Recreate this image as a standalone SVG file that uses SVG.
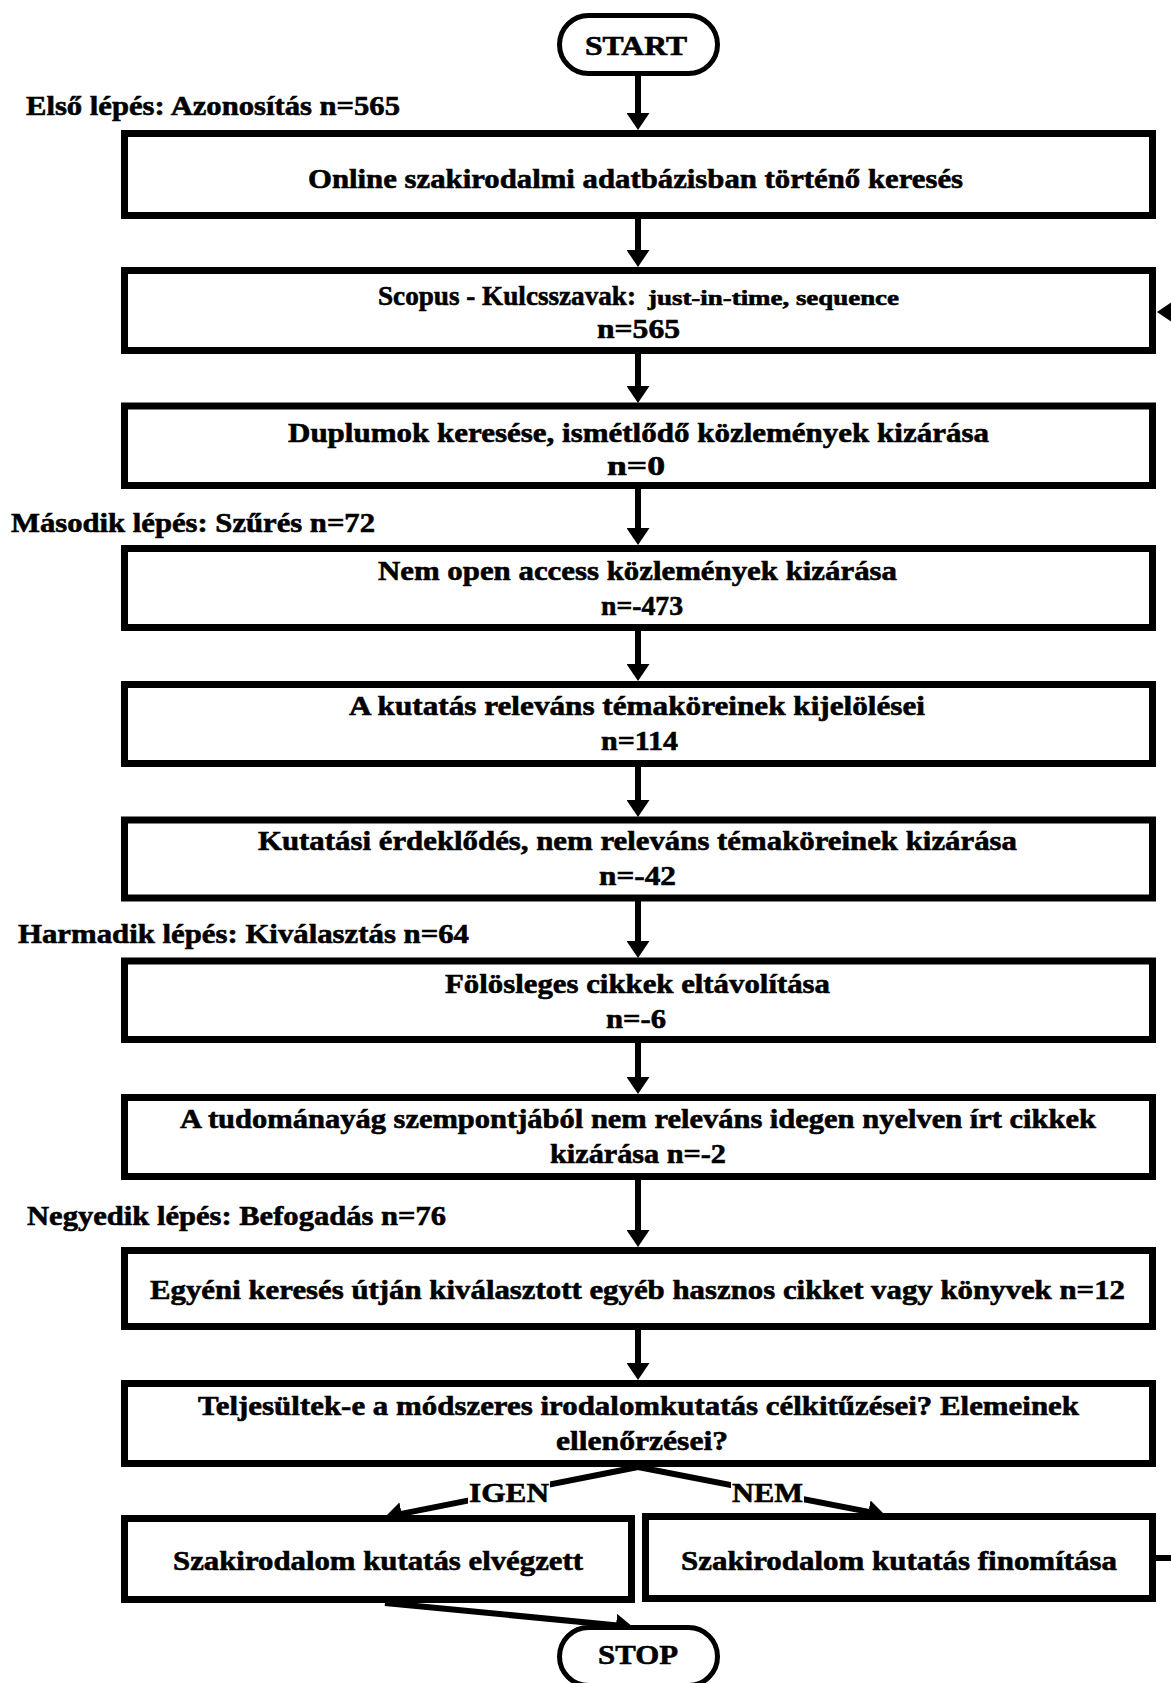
<svg xmlns="http://www.w3.org/2000/svg" width="1171" height="1683" viewBox="0 0 1171 1683">
<defs>
<style>
.box{fill:#fff;stroke:#000;stroke-width:7}
.pill{fill:#fff;stroke:#000;stroke-width:5}
.t{font-family:"Liberation Serif","Times New Roman",serif;font-weight:bold;font-size:28px;fill:#000;stroke:#000;stroke-width:0.6}
.s{font-size:22px}
.c{fill:none;stroke:#000;stroke-width:6}
</style>
<marker id="ah" markerUnits="userSpaceOnUse" markerWidth="17" markerHeight="23" viewBox="0 0 17 23" refX="7" refY="11.5" orient="auto">
<path d="M0,0 L17,11.5 L0,23 z" fill="#000"/>
</marker>
</defs>

<g id="connectors">
<line class="c" x1="638" y1="76" x2="638" y2="120" marker-end="url(#ah)"/>
<line class="c" x1="638" y1="219" x2="638" y2="257" marker-end="url(#ah)"/>
<line class="c" x1="638" y1="354" x2="638" y2="393" marker-end="url(#ah)"/>
<line class="c" x1="638" y1="489" x2="638" y2="535" marker-end="url(#ah)"/>
<line class="c" x1="638" y1="630" x2="638" y2="671" marker-end="url(#ah)"/>
<line class="c" x1="638" y1="766" x2="638" y2="807" marker-end="url(#ah)"/>
<line class="c" x1="638" y1="901" x2="638" y2="948" marker-end="url(#ah)"/>
<line class="c" x1="638" y1="1043" x2="638" y2="1084" marker-end="url(#ah)"/>
<line class="c" x1="638" y1="1180" x2="638" y2="1237" marker-end="url(#ah)"/>
<line class="c" x1="638" y1="1330" x2="638" y2="1370" marker-end="url(#ah)"/>
<line class="c" x1="638" y1="1467" x2="394.8" y2="1515.1" marker-end="url(#ah)"/>
<line class="c" x1="638" y1="1467" x2="875.2" y2="1513.1" marker-end="url(#ah)"/>
<line class="c" x1="385" y1="1603" x2="623" y2="1626" marker-end="url(#ah)"/>
<path class="c" d="M1156,1558 H1185 V312 H1167" marker-end="url(#ah)"/>
<rect x="468" y="1481" width="82" height="23" fill="#fff"/>
<text class="t" x="469" y="1502" textLength="80" lengthAdjust="spacingAndGlyphs">IGEN</text>
<rect x="731" y="1481" width="73" height="23" fill="#fff"/>
<text class="t" x="732" y="1502" textLength="71" lengthAdjust="spacingAndGlyphs">NEM</text>
</g>

<g id="start">
<rect class="pill" x="559.5" y="15.5" width="158" height="58" rx="29"/>
<text class="t" x="585" y="55" textLength="102" lengthAdjust="spacingAndGlyphs">START</text>
</g>

<g id="label1">
<text class="t" x="26" y="115" textLength="374" lengthAdjust="spacingAndGlyphs">Első lépés: Azonosítás n=565</text>
</g>

<g id="box1">
<rect class="box" x="124.5" y="133.5" width="1028" height="82"/>
<text class="t" x="308" y="188" textLength="655" lengthAdjust="spacingAndGlyphs">Online szakirodalmi adatbázisban történő keresés</text>
</g>

<g id="box2">
<rect class="box" x="124.5" y="270.5" width="1028" height="80"/>
<text class="t" x="378" y="305" textLength="258" lengthAdjust="spacingAndGlyphs">Scopus - Kulcsszavak:</text>
<text class="t s" x="648" y="305" textLength="251" lengthAdjust="spacingAndGlyphs">just-in-time, sequence</text>
<text class="t" x="597" y="338" textLength="83" lengthAdjust="spacingAndGlyphs">n=565</text>
</g>

<g id="box3">
<rect class="box" x="124.5" y="406" width="1028" height="79.5"/>
<text class="t" x="288" y="442" textLength="701" lengthAdjust="spacingAndGlyphs">Duplumok keresése, ismétlődő közlemények kizárása</text>
<text class="t" x="607" y="475" textLength="58" lengthAdjust="spacingAndGlyphs">n=0</text>
</g>

<g id="label2">
<text class="t" x="11" y="532" textLength="364" lengthAdjust="spacingAndGlyphs">Második lépés: Szűrés n=72</text>
</g>

<g id="box4">
<rect class="box" x="124.5" y="548.5" width="1028" height="79"/>
<text class="t" x="378" y="580" textLength="519" lengthAdjust="spacingAndGlyphs">Nem open access közlemények kizárása</text>
<text class="t" x="601" y="615" textLength="82" lengthAdjust="spacingAndGlyphs">n=-473</text>
</g>

<g id="box5">
<rect class="box" x="124.5" y="684.5" width="1028" height="79"/>
<text class="t" x="349" y="715" textLength="576" lengthAdjust="spacingAndGlyphs">A kutatás releváns témaköreinek kijelölései</text>
<text class="t" x="601" y="750" textLength="77" lengthAdjust="spacingAndGlyphs">n=114</text>
</g>

<g id="box6">
<rect class="box" x="124.5" y="820" width="1028" height="78"/>
<text class="t" x="258" y="850" textLength="759" lengthAdjust="spacingAndGlyphs">Kutatási érdeklődés, nem releváns témaköreinek kizárása</text>
<text class="t" x="599" y="885" textLength="77" lengthAdjust="spacingAndGlyphs">n=-42</text>
</g>

<g id="label3">
<text class="t" x="18" y="943" textLength="451" lengthAdjust="spacingAndGlyphs">Harmadik lépés: Kiválasztás n=64</text>
</g>

<g id="box7">
<rect class="box" x="124.5" y="961" width="1028" height="78.5"/>
<text class="t" x="445" y="993" textLength="385" lengthAdjust="spacingAndGlyphs">Fölösleges cikkek eltávolítása</text>
<text class="t" x="606" y="1028" textLength="60" lengthAdjust="spacingAndGlyphs">n=-6</text>
</g>

<g id="box8">
<rect class="box" x="124.5" y="1097.5" width="1028" height="79"/>
<text class="t" x="180" y="1128" textLength="916" lengthAdjust="spacingAndGlyphs">A tudománayág szempontjából nem releváns idegen nyelven írt cikkek</text>
<text class="t" x="550" y="1163" textLength="176" lengthAdjust="spacingAndGlyphs">kizárása n=-2</text>
</g>

<g id="label4">
<text class="t" x="27" y="1225" textLength="419" lengthAdjust="spacingAndGlyphs">Negyedik lépés: Befogadás n=76</text>
</g>

<g id="box9">
<rect class="box" x="124.5" y="1250.5" width="1028" height="76"/>
<text class="t" x="150" y="1299" textLength="975" lengthAdjust="spacingAndGlyphs">Egyéni keresés útján kiválasztott egyéb hasznos cikket vagy könyvek n=12</text>
</g>

<g id="box10">
<rect class="box" x="124.5" y="1383.5" width="1028" height="80"/>
<text class="t" x="198" y="1415" textLength="881" lengthAdjust="spacingAndGlyphs">Teljesültek-e a módszeres irodalomkutatás célkitűzései? Elemeinek</text>
<text class="t" x="556" y="1450" textLength="172" lengthAdjust="spacingAndGlyphs">ellenőrzései?</text>
</g>

<g id="box11a">
<rect class="box" x="124.5" y="1518.5" width="507" height="81"/>
<text class="t" x="173" y="1570" textLength="410" lengthAdjust="spacingAndGlyphs">Szakirodalom kutatás elvégzett</text>
</g>

<g id="box11b">
<rect class="box" x="645.5" y="1516.5" width="507" height="82"/>
<text class="t" x="681" y="1570" textLength="436" lengthAdjust="spacingAndGlyphs">Szakirodalom kutatás finomítása</text>
</g>

<g id="stop">
<rect class="pill" x="559.5" y="1627.5" width="158" height="58" rx="29"/>
<text class="t" x="598" y="1664" textLength="80" lengthAdjust="spacingAndGlyphs">STOP</text>
</g>
</svg>
